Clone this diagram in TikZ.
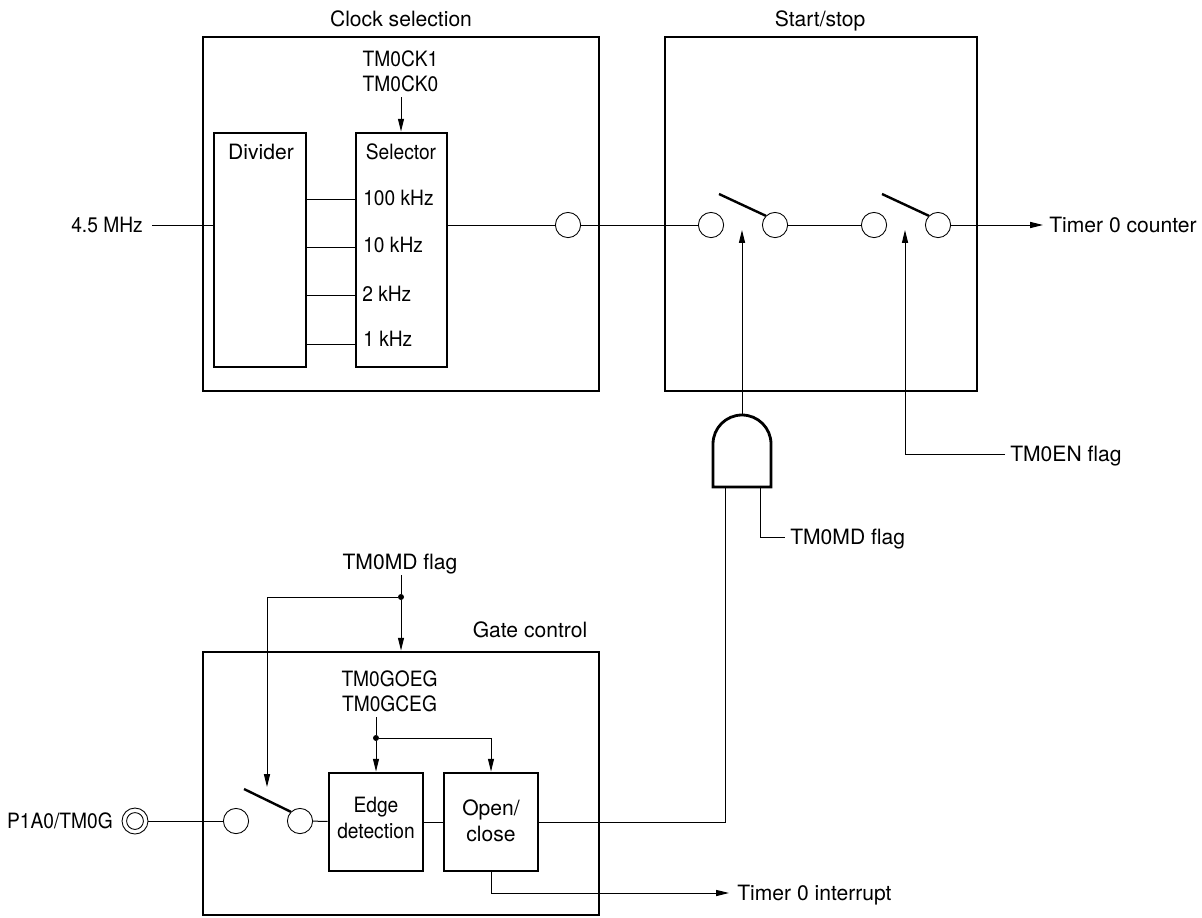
\documentclass[tikz,border=0pt]{standalone}
\usepackage{fontspec}
\setmainfont{TeX Gyre Heros}
\newfontfamily\tightfont[FakeStretch=0.91]{TeX Gyre Heros}
\usetikzlibrary{positioning,arrows.meta,calc}
\tikzset{
  x=0.25mm, y=-0.25mm,
  >={Stealth[inset=0pt,length=3.2mm,width=1.5mm]},
  font=\fontsize{15}{18.5}\selectfont,
  tight/.style = {font=\tightfont\fontsize{15}{18}\selectfont},
  outer/.style = {draw, line width=0.7mm, inner sep=0pt},
  block/.style = {draw, line width=0.7mm, inner sep=0pt},
  pad/.style   = {draw, fill=white, circle, line width=0.22mm, minimum size=6.3mm, inner sep=0pt},
  arm/.style   = {line width=0.6mm},
  wire/.style  = {line width=0.25mm},
  flow/.style  = {->, line width=0.25mm},
  tag/.style   = {inner sep=0pt, text height=13.6pt, text depth=3pt},
  stack/.style = {tight, inner sep=0pt, align=center},
  dot/.style   = {circle, fill, minimum size=1.5mm, inner sep=0pt},
}
\begin{document}
\begin{tikzpicture}
\useasboundingbox (0,0) rectangle (1202,917);

% ---------------- clock selection ---------------------------------------
\node[outer, minimum width=99mm, minimum height=88.5mm] at (401,214) (clkbox) {};
\node[tag] at (401,19) (clktitle) {Clock selection};
\node[block, minimum width=23mm, minimum height=58.5mm] at (260,250) (divider) {};
\node[block, minimum width=22.75mm, minimum height=58.5mm] at (401.5,250) (selector) {};
\node[tag] at (261,152) (dividertxt) {Divider};
\node[tag, tight] at (401,152) (selectortxt) {Selector};
\node[tag, tight, anchor=west] at (363,198) (f100) {100 kHz};
\node[tag, tight, anchor=west] at (363,245) (f10) {10 kHz};
\node[tag, tight, anchor=west] at (362,294) (f2) {2 kHz};
\node[tag, tight, anchor=west] at (363,339) (f1) {1 kHz};
\node[stack] at (400.5,71) (ckbits) {TM0CK1\\TM0CK0};
\node[tag, tight, anchor=east] at (143,225) (fin) {4.5 MHz};
\node[pad] at (568,225) (clkout) {};

\draw[flow] (401,97) -- (selector.north -| 401,0);
\draw[wire] (fin.east) ++(9,0) -- (fin.east -| divider.west);
\draw[wire] (divider.east |- 0,199) -- (selector.west |- 0,199);
\draw[wire] (divider.east |- 0,247) -- (selector.west |- 0,247);
\draw[wire] (divider.east |- 0,295) -- (selector.west |- 0,295);
\draw[wire] (divider.east |- 0,344) -- (selector.west |- 0,344);
\draw[wire] (selector.east |- clkout) -- (clkout.west);

% ---------------- start/stop --------------------------------------------
\node[outer, minimum width=78mm, minimum height=88.5mm] at (821,214) (runbox) {};
\node[tag] at (820,19) (runtitle) {Start/stop};
\node[pad] at (711,225) (a1) {};
\node[pad] at (775,225) (a2) {};
\node[pad] at (874,225) (b1) {};
\node[pad] at (938,225) (b2) {};
\coordinate (aarm) at (719,194);
\coordinate (barm) at (882,194);
\node[tag, anchor=west] at (1049,225) (tmrout) {Timer 0 counter};
\node[tag, anchor=west] at (1010,454) (enflag) {TM0EN flag};

\draw[wire] (clkout) -- (a1);
\draw[wire] (a2) -- (b1);
\draw[flow, shorten >=1.5mm] (b2.east) -- (tmrout.west);
\draw[arm] (aarm) -- (a2.north west);
\draw[arm] (barm) -- (b2.north west);
\draw[flow] (enflag.west) ++(-5,0) -| (905,230);

% ---------------- and gate ----------------------------------------------
\coordinate (gl) at (713,487);
\coordinate (gr) at (771,487);
\draw[line width=0.7mm] (gl) -- (713,444) arc[start angle=180, end angle=360, radius=29] -- (gr) -- cycle;
\node[tag, anchor=west] at (790,537) (mdflag) {TM0MD flag};

\draw[flow] (742,415) -- (742,230);
\draw[wire] (760,487) |- ($(mdflag.west)+(-5,0)$);

% ---------------- gate control ------------------------------------------
\node[outer, minimum width=99mm, minimum height=65.75mm] at (401,783.5) (gatebox) {};
\node[tag] at (530,630) (gatetitle) {Gate control};
\node[stack] at (389.5,691) (gatebits) {TM0GOEG\\TM0GCEG};
\node[block, minimum width=23.5mm, minimum height=24.5mm] at (376,822) (edge) {};
\node[block, minimum width=23.5mm, minimum height=24.5mm] at (491,822) (openclose) {};
\node[stack] at (376,818) (edgetxt) {Edge\\detection};
\node[inner sep=0pt, align=center] at (491,820.5) (opentxt) {Open/\\close};
\node[tag, tight, anchor=east] at (113,821) (pintxt) {P1A0/TM0G};
\node[pad, minimum size=6.5mm] at (135,821) (pin) {};
\node[pad, minimum size=4.2mm] at (135,821) (pinin) {};
\node[pad] at (236,821) (c1) {};
\node[pad] at (300,821) (c2) {};
\coordinate (carm) at (244,789);
\node[tag] at (400,562) (mdtop) {TM0MD flag};
\node[dot] at (401,597) (mddot) {};
\node[dot] at (376,738) (egdot) {};
\node[tag, anchor=west] at (737,893) (irq) {Timer 0 interrupt};

\draw[wire] (pin) -- (c1);
\draw[arm] (carm) -- (c2.north west);
\draw[wire] (c2) -- (edge);
\draw[wire] (edge) -- (openclose);
\draw[wire] (401,575) -- (mddot);
\draw[flow] (mddot) -- (mddot |- gatebox.north);
\draw[flow] (mddot) -| (267,787);
\draw[wire] (376,717) -- (egdot);
\draw[flow] (egdot) -- (edge.north);
\draw[flow] (egdot) -| (openclose.north);
\draw[wire] (openclose.east) -| (725,487);
\draw[flow, shorten >=2mm] (openclose.south) |- (irq.west);

\end{tikzpicture}
\end{document}
